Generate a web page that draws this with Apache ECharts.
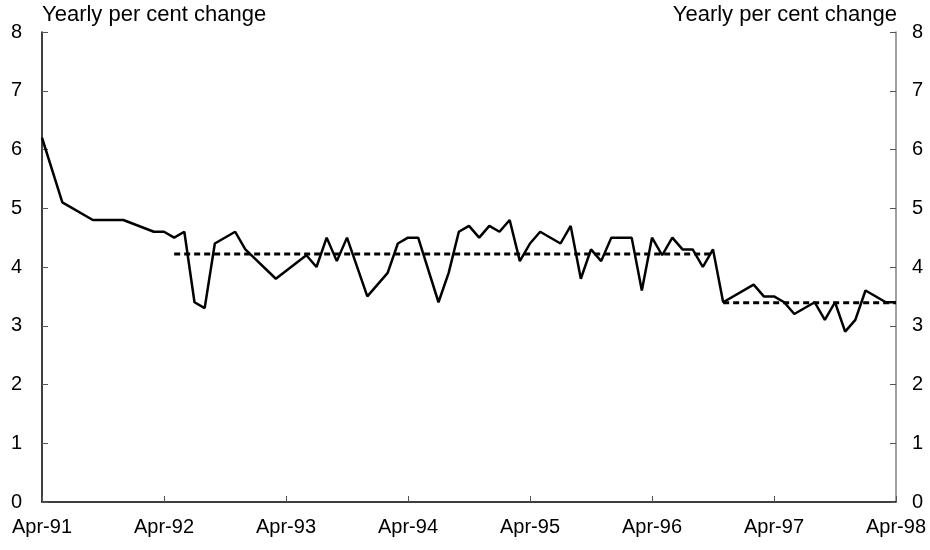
<!DOCTYPE html>
<html><head><meta charset="utf-8">
<script src="https://cdn.jsdelivr.net/npm/echarts@6/dist/echarts.min.js"></script>
<style>html,body{margin:0;padding:0;background:#fff}#c{width:930px;height:550px}</style>
</head><body><div id="c"></div>
<script>
const months = [
 'Apr-91','May-91','Jun-91','Jul-91','Aug-91','Sep-91','Oct-91','Nov-91','Dec-91','Jan-92','Feb-92','Mar-92',
 'Apr-92','May-92','Jun-92','Jul-92','Aug-92','Sep-92','Oct-92','Nov-92','Dec-92','Jan-93','Feb-93','Mar-93',
 'Apr-93','May-93','Jun-93','Jul-93','Aug-93','Sep-93','Oct-93','Nov-93','Dec-93','Jan-94','Feb-94','Mar-94',
 'Apr-94','May-94','Jun-94','Jul-94','Aug-94','Sep-94','Oct-94','Nov-94','Dec-94','Jan-95','Feb-95','Mar-95',
 'Apr-95','May-95','Jun-95','Jul-95','Aug-95','Sep-95','Oct-95','Nov-95','Dec-95','Jan-96','Feb-96','Mar-96',
 'Apr-96','May-96','Jun-96','Jul-96','Aug-96','Sep-96','Oct-96','Nov-96','Dec-96','Jan-97','Feb-97','Mar-97',
 'Apr-97','May-97','Jun-97','Jul-97','Aug-97','Sep-97','Oct-97','Nov-97','Dec-97','Jan-98','Feb-98','Mar-98',
 'Apr-98'];
const yearlyChange = [
 6.2,null,5.1,null,null,4.8,null,null,4.8,null,null,4.6,
 4.6,4.5,4.6,3.4,3.3,4.4,null,4.6,4.3,null,null,3.8,
 null,null,4.2,4.0,4.5,4.1,4.5,null,3.5,null,3.9,4.4,
 4.5,4.5,null,3.4,3.9,4.6,4.7,4.5,4.7,4.6,4.8,4.1,
 4.4,4.6,null,4.4,4.7,3.8,4.3,4.1,4.5,null,4.5,3.6,
 4.5,4.2,4.5,4.3,4.3,4.0,4.3,3.4,null,null,3.7,3.5,
 3.5,3.4,3.2,null,3.4,3.1,3.4,2.9,3.1,3.6,null,3.4,
 3.4];
const avgPeriods = [
 {from:'May-92', to:'Oct-96', value:4.22},
 {from:'Nov-96', to:'Apr-98', value:3.39}
];
const tickLabels = ['Apr-91','Apr-92','Apr-93','Apr-94','Apr-95','Apr-96','Apr-97','Apr-98'];
const axisTitle = 'Yearly per cent change';

const FONT = 'Liberation Sans, Arial, sans-serif';
const avgSeries = avgPeriods.map(p => {
  const a = months.indexOf(p.from), b = months.indexOf(p.to);
  return months.map((m, i) => (i >= a && i <= b) ? p.value : null);
});

const chart = echarts.init(document.getElementById('c'), null, {renderer:'canvas'});
const yAxisBase = (pos, lineColor, margin) => ({
  type:'value', position:pos, min:0, max:8, interval:1,
  axisLine:{show:true, onZero:false, lineStyle:{color:lineColor, width:1.5}},
  axisTick:{show:true, inside:true, length:6, lineStyle:{color:'#555', width:1}},
  axisLabel:{color:'#000', fontFamily:FONT, fontSize:20, margin:margin},
  splitLine:{show:false}
});
chart.setOption({
  animation:false,
  backgroundColor:'#fff',
  grid:{left:42, right:34, top:32, bottom:48, containLabel:false},
  xAxis:{
    type:'category', data:months, boundaryGap:false,
    axisLine:{show:true, lineStyle:{color:'#000', width:1.5}},
    axisTick:{show:true, inside:true, length:6, lineStyle:{color:'#555', width:1},
      interval:(i, v) => tickLabels.includes(v)},
    axisLabel:{color:'#000', fontFamily:FONT, fontSize:20, margin:15,
      interval:(i, v) => tickLabels.includes(v)},
    splitLine:{show:false}
  },
  yAxis:[yAxisBase('left', '#000', 20), yAxisBase('right', '#808080', 16)],
  graphic:[
    {type:'text', left:42, top:4, style:{text:axisTitle, font:'22px ' + FONT, fill:'#000'}},
    {type:'text', right:33, top:4, style:{text:axisTitle, font:'22px ' + FONT, fill:'#000'}}
  ],
  series:[
    {type:'line', data:yearlyChange, connectNulls:true, showSymbol:false, symbol:'none',
     lineStyle:{color:'#000', width:2.5}, z:3},
    ...avgSeries.map(d => ({type:'line', data:d, showSymbol:false, symbol:'none',
     lineStyle:{color:'#000', width:3, type:[6,4]}, z:2}))
  ]
});
</script></body></html>
